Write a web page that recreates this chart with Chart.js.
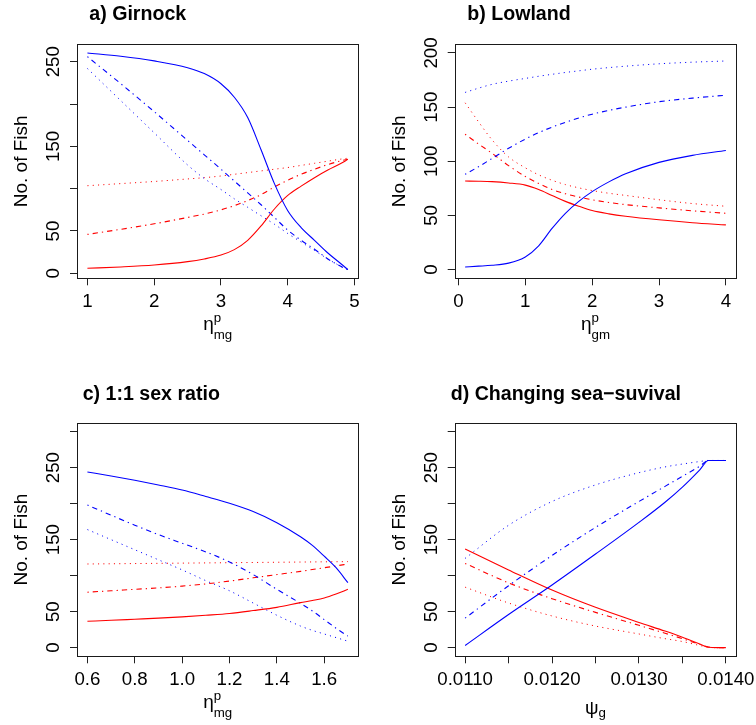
<!DOCTYPE html>
<html>
<head>
<meta charset="utf-8">
<script src="https://cdn.jsdelivr.net/npm/chart.js@4.4.1/dist/chart.umd.min.js"></script>
<style>
  html, body { margin: 0; padding: 0; background: #fff; }
  #wrap { position: relative; width: 756px; height: 725px; overflow: hidden; background: #fff; }
  #wrap canvas { position: absolute; left: 0; top: 0; }
</style>
</head>
<body>
<div id="wrap">
  <canvas id="panelA" width="756" height="725"></canvas>
  <canvas id="panelB" width="756" height="725"></canvas>
  <canvas id="panelC" width="756" height="725"></canvas>
  <canvas id="panelD" width="756" height="725"></canvas>
</div>
<script>
// ---------- a) Girnock ----------
const girnockEta        = [1, 1.5, 2, 2.5, 2.75, 3, 3.2, 3.4, 3.6, 3.8, 4, 4.2, 4.4, 4.6, 4.8, 4.9];
const girnockBlueSolid  = [260.3, 256.5, 251, 243, 236, 224, 208, 184, 146, 106, 74, 54, 39, 24, 11, 4.3];
const girnockRedSolid   = [5.9, 7.5, 9.8, 13.8, 17, 21.6, 28, 39, 56, 76, 92, 103, 113, 122, 130, 134.6];
const girnockBlueDotDash= [256, 224, 191, 157, 140, 123, 109, 95, 81, 66, 51, 39, 28.5, 17, 8, 4.3];
const girnockRedDotDash = [46, 52, 58.5, 66, 70, 75, 80, 86, 93, 102, 110, 117, 123, 128.5, 133, 134.8];
const girnockBlueDotted = [242, 204, 166, 128, 112, 99, 88, 78, 68, 58, 47, 37, 27, 17, 8, 4.3];
const girnockRedDotted  = [103.5, 106, 108.5, 111.5, 113, 115, 117, 119, 121, 123, 125, 127.5, 130, 132.5, 135, 136];

// ---------- b) Lowland ----------
const lowlandEta        = [0.1, 0.3, 0.5, 0.75, 1, 1.2, 1.4, 1.6, 1.8, 2, 2.25, 2.5, 3, 3.5, 4];
const lowlandBlueSolid  = [2.5, 3.2, 4, 6, 11.7, 22, 38, 52, 63, 72, 81, 88.5, 99, 105.5, 110];
const lowlandRedSolid   = [81.8, 81.6, 81.2, 80, 78, 74, 68.5, 63, 58.5, 54.5, 51.5, 49.3, 46, 43.3, 41.3];
const lowlandBlueDotDash= [88, 95, 102.5, 112, 120.5, 126.5, 131.5, 136, 140, 143.5, 147, 150, 155, 158.3, 161];
const lowlandRedDotDash = [125, 116, 107.5, 96, 86, 79.5, 74, 70, 67, 64.5, 62, 60, 57, 54.3, 52];
const lowlandBlueDotted = [163.6, 167.5, 171, 174, 176.5, 178.5, 180.3, 182, 183.5, 185, 186.5, 187.8, 190, 191.5, 192.6];
const lowlandRedDotted  = [154, 136.5, 120, 104, 94, 87.5, 82.5, 78.5, 75.5, 73, 70.5, 68.5, 64.5, 61, 58.5];

// ---------- c) 1:1 sex ratio ----------
const sexRatioEta        = [0.6, 0.7, 0.8, 0.9, 1.0, 1.1, 1.2, 1.3, 1.4, 1.5, 1.55, 1.6, 1.65, 1.7];
const sexRatioBlueSolid  = [244, 238.5, 232.5, 226, 219, 210, 200.5, 189, 173.5, 154, 142, 127, 111, 90.3];
const sexRatioRedSolid   = [36.6, 38, 39.5, 41, 42.8, 45, 47.5, 51.5, 56, 62.5, 65.5, 69, 74.5, 81];
const sexRatioBlueDotDash= [198, 184, 170, 157, 145, 133, 119, 101.5, 81, 61.5, 51, 39, 27, 16];
const sexRatioRedDotDash = [77, 79, 81, 83, 85.5, 88.5, 92.5, 97, 101.5, 106, 108.5, 111, 113.5, 116.2];
const sexRatioBlueDotted = [164, 150, 136, 122, 108, 93, 79, 62, 45, 30, 24, 19, 14, 9];
const sexRatioRedDotted  = [116.2, 116.5, 116.8, 117.1, 117.4, 117.7, 118, 118.3, 118.6, 118.9, 119.05, 119.2, 119.35, 119.5];

// ---------- d) Changing sea-survival ----------
const seaPsi         = [0.0110, 0.0115, 0.0120, 0.0125, 0.0130, 0.0133, 0.0135, 0.0137, 0.0138, 0.0139, 0.0140];
const seaBlueSolid   = [3, 46, 87, 130, 174, 202, 223, 247, 260, 260, 260];
const seaRedSolid    = [137, 108, 80, 56, 35, 23, 14.5, 5, 0.5, 0, 0];
const seaBlueDotDash = [41, 86, 128, 167, 203, 224, 238, 252, 260, 260, 260];
const seaRedDotDash  = [117, 90, 68, 49, 31, 20, 12.5, 4.5, 1, 0, 0];
const seaBlueDotted  = [124, 170, 203, 226, 243, 251, 255, 258.5, 260, 260, 260];
const seaRedDotted   = [84, 62, 44, 30, 19, 12.5, 8.5, 3, 0.5, 0, 0];

// ---------- axis ticks ----------
const girnockXTicks  = [1, 2, 3, 4, 5];
const girnockXLabels = ['1', '2', '3', '4', '5'];
const lowlandXTicks  = [0, 1, 2, 3, 4];
const lowlandXLabels = ['0', '1', '2', '3', '4'];
const sexRatioXTicks = [0.6, 0.8, 1.0, 1.2, 1.4, 1.6];
const sexRatioXLabels= ['0.6', '0.8', '1.0', '1.2', '1.4', '1.6'];
const seaXTicks      = [0.0110, 0.0115, 0.0120, 0.0125, 0.0130, 0.0135, 0.0140];
const seaXLabels     = ['0.0110', '', '0.0120', '', '0.0130', '', '0.0140'];
const fishTicks250   = [0, 50, 100, 150, 200, 250];
const fishLabels250  = ['0', '50', '', '150', '', '250'];
const fishTicks200   = [0, 50, 100, 150, 200];
const fishLabels200  = ['0', '50', '100', '150', '200'];
const fishTicks300   = [0, 50, 100, 150, 200, 250, 300];
const fishLabels300  = ['0', '50', '', '150', '', '250', ''];

// ---------- drawing ----------
const FONT = '"Liberation Sans", Arial, Helvetica, sans-serif';
const TICK_PX = 18.7;
const LAB_PX = 19;
const SUB_PX = 13.3;
const TITLE_PX = 19.6;
const DASH = { solid: [], dotdash: [1.3, 4, 5.3, 4], dotted: [1.1, 4.2] };
const WIDTH = { solid: 1.1, dotdash: 1.1, dotted: 1 };
const BLUE = '#0000ff', RED = '#ff0000';
const Y_AXIS_W = 40, X_AXIS_H = 40;

const panelDecor = {
  id: 'panelDecor',
  afterDraw(chart, args, o) {
    const { ctx, chartArea: a } = chart;
    const xs = chart.scales.x, ys = chart.scales.y;
    ctx.save();
    // frame around the plotting region
    ctx.strokeStyle = '#1a1a1a';
    ctx.lineWidth = 1;
    const L = Math.round(a.left), T = Math.round(a.top), R = Math.round(a.right), B = Math.round(a.bottom);
    ctx.strokeRect(L + 0.5, T + 0.5, R - L, B - T);

    ctx.fillStyle = '#000';
    // y tick labels (rotated, reading upwards)
    ctx.font = TICK_PX + 'px ' + FONT;
    ctx.textAlign = 'center';
    ctx.textBaseline = 'alphabetic';
    ys.ticks.forEach((t, i) => {
      const lab = o.yLabels[i];
      if (!lab) return;
      ctx.save();
      ctx.translate(a.left - 18, ys.getPixelForValue(t.value));
      ctx.rotate(-Math.PI / 2);
      ctx.fillText(lab, 0, 0);
      ctx.restore();
    });
    // x tick labels
    xs.ticks.forEach((t, i) => {
      const lab = o.xLabels[i];
      if (!lab) return;
      ctx.fillText(lab, xs.getPixelForValue(t.value), a.bottom + 28.5);
    });
    // y axis title
    ctx.font = LAB_PX + 'px ' + FONT;
    ctx.save();
    ctx.translate(a.left - 50, (a.top + a.bottom) / 2);
    ctx.rotate(-Math.PI / 2);
    ctx.fillText('No. of Fish', 0, 0);
    ctx.restore();
    // x axis title: symbol with optional super/subscript
    ctx.textAlign = 'left';
    const t = o.xTitle;
    ctx.font = LAB_PX + 'px ' + FONT;
    const mBase = ctx.measureText(t.base);
    ctx.font = SUB_PX + 'px ' + FONT;
    const mSup = t.sup ? ctx.measureText(t.sup) : null;
    const mSub = ctx.measureText(t.sub);
    const total = mBase.width + Math.max(mSup ? mSup.width : 0, mSub.width);
    const x0 = (a.left + a.right) / 2 - total / 2;
    ctx.font = LAB_PX + 'px ' + FONT;
    ctx.fillText(t.base, x0, a.bottom + t.baseTop + mBase.actualBoundingBoxAscent);
    ctx.font = SUB_PX + 'px ' + FONT;
    if (mSup) ctx.fillText(t.sup, x0 + mBase.width, a.bottom + t.supTop + mSup.actualBoundingBoxAscent);
    ctx.fillText(t.sub, x0 + mBase.width, a.bottom + t.subTop + mSub.actualBoundingBoxAscent);
    // panel heading
    ctx.font = 'bold ' + TITLE_PX + 'px ' + FONT;
    ctx.fillText(o.title, o.titleX, o.titleY);
    ctx.restore();
  }
};

function series(xv, yv, color, kind) {
  return {
    data: xv.map((x, i) => ({ x, y: yv[i] })),
    borderColor: color,
    borderWidth: WIDTH[kind],
    borderDash: DASH[kind],
    pointRadius: 0,
    fill: false,
    cubicInterpolationMode: 'monotone'
  };
}

function axis(min, max, ticks, isY) {
  return {
    type: 'linear',
    min, max,
    afterBuildTicks: s => { s.ticks = ticks.map(v => ({ value: v })); },
    afterFit: s => { if (isY) s.width = Y_AXIS_W; else s.height = X_AXIS_H; },
    ticks: { display: false },
    grid: { drawOnChartArea: false, drawTicks: true, tickLength: 7, color: '#222', lineWidth: 1 },
    border: { display: false }
  };
}

function panel(id, box, xr, yr, xTicks, xLabels, yTicks, yLabels, datasets, deco) {
  new Chart(document.getElementById(id), {
    type: 'line',
    data: { datasets },
    options: {
      responsive: false,
      animation: false,
      events: [],
      layout: { padding: { left: box.l - Y_AXIS_W, right: 756 - box.r, top: box.t, bottom: 725 - box.b - X_AXIS_H } },
      scales: { x: axis(xr[0], xr[1], xTicks, false), y: axis(yr[0], yr[1], yTicks, true) },
      plugins: {
        legend: { display: false },
        tooltip: { enabled: false },
        panelDecor: Object.assign({ xLabels, yLabels }, deco)
      }
    },
    plugins: [panelDecor]
  });
}

const etaMg = { base: 'η', sup: 'p', sub: 'mg', baseTop: 41.7, supTop: 36.7, subTop: 53.4 };
const etaGm = { base: 'η', sup: 'p', sub: 'gm', baseTop: 41.7, supTop: 36.7, subTop: 53.4 };
const psiG  = { base: 'ψ', sup: null, sub: 'g', baseTop: 45.4, subTop: 53.7 };

panel('panelA', { l: 77, r: 358.3, t: 44.3, b: 278.3 }, [0.844, 5.056], [-5.9, 270.6],
  girnockXTicks, girnockXLabels, fishTicks250, fishLabels250, [
    series(girnockEta, girnockBlueSolid, BLUE, 'solid'),
    series(girnockEta, girnockRedSolid, RED, 'solid'),
    series(girnockEta, girnockBlueDotDash, BLUE, 'dotdash'),
    series(girnockEta, girnockRedDotDash, RED, 'dotdash'),
    series(girnockEta, girnockBlueDotted, BLUE, 'dotted'),
    series(girnockEta, girnockRedDotted, RED, 'dotted')
  ], { title: 'a) Girnock', titleX: 89.3, titleY: 20.3, xTitle: etaMg });

panel('panelB', { l: 454.7, r: 736.3, t: 44.3, b: 278.3 }, [-0.056, 4.156], [-8, 208],
  lowlandXTicks, lowlandXLabels, fishTicks200, fishLabels200, [
    series(lowlandEta, lowlandBlueSolid, BLUE, 'solid'),
    series(lowlandEta, lowlandRedSolid, RED, 'solid'),
    series(lowlandEta, lowlandBlueDotDash, BLUE, 'dotdash'),
    series(lowlandEta, lowlandRedDotDash, RED, 'dotdash'),
    series(lowlandEta, lowlandBlueDotted, BLUE, 'dotted'),
    series(lowlandEta, lowlandRedDotted, RED, 'dotted')
  ], { title: 'b) Lowland', titleX: 467.3, titleY: 20.3, xTitle: etaGm });

panel('panelC', { l: 77, r: 358.3, t: 423, b: 656.3 }, [0.556, 1.744], [-12, 312],
  sexRatioXTicks, sexRatioXLabels, fishTicks300, fishLabels300, [
    series(sexRatioEta, sexRatioBlueSolid, BLUE, 'solid'),
    series(sexRatioEta, sexRatioRedSolid, RED, 'solid'),
    series(sexRatioEta, sexRatioBlueDotDash, BLUE, 'dotdash'),
    series(sexRatioEta, sexRatioRedDotDash, RED, 'dotdash'),
    series(sexRatioEta, sexRatioBlueDotted, BLUE, 'dotted'),
    series(sexRatioEta, sexRatioRedDotted, RED, 'dotted')
  ], { title: 'c) 1:1 sex ratio', titleX: 82.7, titleY: 399.5, xTitle: etaMg });

panel('panelD', { l: 454.7, r: 736.3, t: 423, b: 656.3 }, [0.01088, 0.01412], [-12, 312],
  seaXTicks, seaXLabels, fishTicks300, fishLabels300, [
    series(seaPsi, seaBlueSolid, BLUE, 'solid'),
    series(seaPsi, seaRedSolid, RED, 'solid'),
    series(seaPsi, seaBlueDotDash, BLUE, 'dotdash'),
    series(seaPsi, seaRedDotDash, RED, 'dotdash'),
    series(seaPsi, seaBlueDotted, BLUE, 'dotted'),
    series(seaPsi, seaRedDotted, RED, 'dotted')
  ], { title: 'd) Changing sea\u2212suvival', titleX: 450.7, titleY: 399.5, xTitle: psiG });
</script>
</body>
</html>
